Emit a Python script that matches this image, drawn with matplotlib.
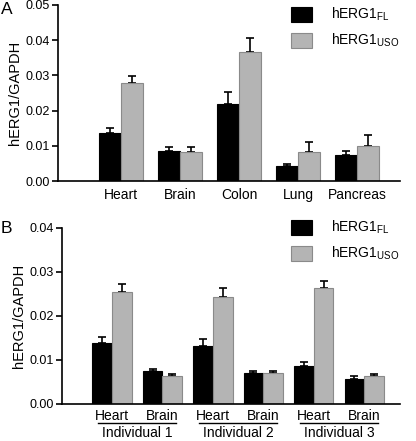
import matplotlib
matplotlib.use("Agg")
import matplotlib.pyplot as plt
import matplotlib.transforms as mtransforms
import numpy as np

plt.rcParams['font.family'] = ['Liberation Sans', 'DejaVu Sans']
plt.rcParams['mathtext.fontset'] = 'custom'
plt.rcParams['mathtext.rm'] = 'Liberation Sans'
plt.rcParams['mathtext.it'] = 'Liberation Sans'
plt.rcParams['mathtext.bf'] = 'Liberation Sans'

# Panel A data
tissues_a = ["Heart", "Brain", "Colon", "Lung", "Pancreas"]
fl_a = [0.0135, 0.0085, 0.0218, 0.0043, 0.0074]
fl_a_err = [0.0016, 0.0011, 0.0036, 0.0006, 0.0012]
uso_a = [0.0278, 0.0081, 0.0366, 0.0081, 0.0099]
uso_a_err = [0.0019, 0.0015, 0.0040, 0.0030, 0.0032]

# Panel B data
tissues_b = ["Heart", "Brain", "Heart", "Brain", "Heart", "Brain"]
individuals_b = ["Individual 1", "Individual 2", "Individual 3"]
fl_b = [0.0139, 0.0075, 0.0132, 0.0069, 0.0086, 0.0057]
fl_b_err = [0.0012, 0.0005, 0.0016, 0.0006, 0.0008, 0.0006]
uso_b = [0.0253, 0.0063, 0.0242, 0.0069, 0.0262, 0.0063]
uso_b_err = [0.0018, 0.0005, 0.0021, 0.0006, 0.0018, 0.0004]

legend_labels = [r"hERG1$_{\mathregular{FL}}$", r"hERG1$_{\mathregular{USO}}$"]
ylabel = "hERG1/GAPDH"

BLACK = "#000000"
GRAY = "#b4b4b4"
GRAY_EDGE = "#8a8a8a"

fig = plt.figure(figsize=(4.16, 4.41), dpi=100)
W, H = 416, 441


def px_axes(left, right, top, bottom):
    return fig.add_axes([left / W, 1 - bottom / H, (right - left) / W, (bottom - top) / H])


def draw_panel(ax, fl, fl_err, uso, uso_err, width, ymax, yticks):
    x = np.arange(len(fl))
    ax.bar(x - width / 2, fl, width, color=BLACK, edgecolor=BLACK, linewidth=0.8,
           label=legend_labels[0], zorder=2)
    ax.bar(x + width / 2, uso, width, color=GRAY, edgecolor=GRAY_EDGE, linewidth=0.8,
           label=legend_labels[1], zorder=2)
    ax.errorbar(x - width / 2, fl, yerr=[np.zeros(len(fl)), fl_err], fmt='none',
                ecolor='black', elinewidth=1.2, capsize=3.2, capthick=1.2, zorder=1)
    ax.errorbar(x + width / 2, uso, yerr=[np.zeros(len(uso)), uso_err], fmt='none',
                ecolor='black', elinewidth=1.2, capsize=3.2, capthick=1.2, zorder=1)
    ax.set_ylim(0, ymax)
    ax.set_yticks(yticks)
    ax.set_yticklabels([f"{t:.2f}" for t in yticks], fontsize=9)
    for s in ['top', 'right']:
        ax.spines[s].set_visible(False)
    for s in ['left', 'bottom']:
        ax.spines[s].set_linewidth(1.2)
    ax.tick_params(axis='y', direction='out', length=4, width=1.2, pad=2)
    ax.tick_params(axis='x', length=0, labelsize=10)
    ax.set_ylabel(ylabel, fontsize=10.5, labelpad=2.5)
    return x


# Panel A
axA = px_axes(58, 400, 5, 181)
xa = draw_panel(axA, fl_a, fl_a_err, uso_a, uso_a_err, 0.37, 0.05,
                [0.0, 0.01, 0.02, 0.03, 0.04, 0.05])
axA.set_xlim(-1.07, 4.73)
axA.set_xticks(xa)
axA.set_xticklabels(tissues_a, fontsize=10)
axA.tick_params(axis='x', pad=5)
axA.legend(loc='upper left', bbox_to_anchor=(291 / W, 1 - 6 / H), bbox_transform=fig.transFigure,
           frameon=False, fontsize=10, handlelength=1.5, handleheight=1.3,
           labelspacing=0.6, handletextpad=1.4, borderpad=0, borderaxespad=0)
fig.text(0.5 / W, 1 - 2 / H, "A", fontsize=12.5, ha='left', va='top')

# Panel B
axB = px_axes(62, 400, 227.7, 403.7)
xb = draw_panel(axB, fl_b, fl_b_err, uso_b, uso_b_err, 0.39, 0.04,
                [0.0, 0.01, 0.02, 0.03, 0.04])
axB.set_xlim(-0.99, 5.71)
axB.set_xticks(xb)
axB.set_xticklabels(tissues_b, fontsize=10)
axB.tick_params(axis='x', pad=3.5)
axB.legend(loc='upper left', bbox_to_anchor=(291 / W, 1 - 219 / H), bbox_transform=fig.transFigure,
           frameon=False, fontsize=10, handlelength=1.5, handleheight=1.3,
           labelspacing=0.6, handletextpad=1.4, borderpad=0, borderaxespad=0)
fig.text(0.5 / W, 1 - 221 / H, "B", fontsize=12.5, ha='left', va='top')

trans = mtransforms.blended_transform_factory(axB.transData, axB.transAxes)
for i, name in enumerate(individuals_b):
    c0, c1 = xb[2 * i], xb[2 * i + 1]
    axB.plot([c0 - 0.27, c1 + 0.27], [-0.11, -0.11], color='black', lw=1.0,
             transform=trans, clip_on=False)
    axB.text((c0 + c1) / 2, -0.125, name, transform=trans, ha='center', va='top',
             fontsize=10)

fig.savefig("out.png", dpi=100)
